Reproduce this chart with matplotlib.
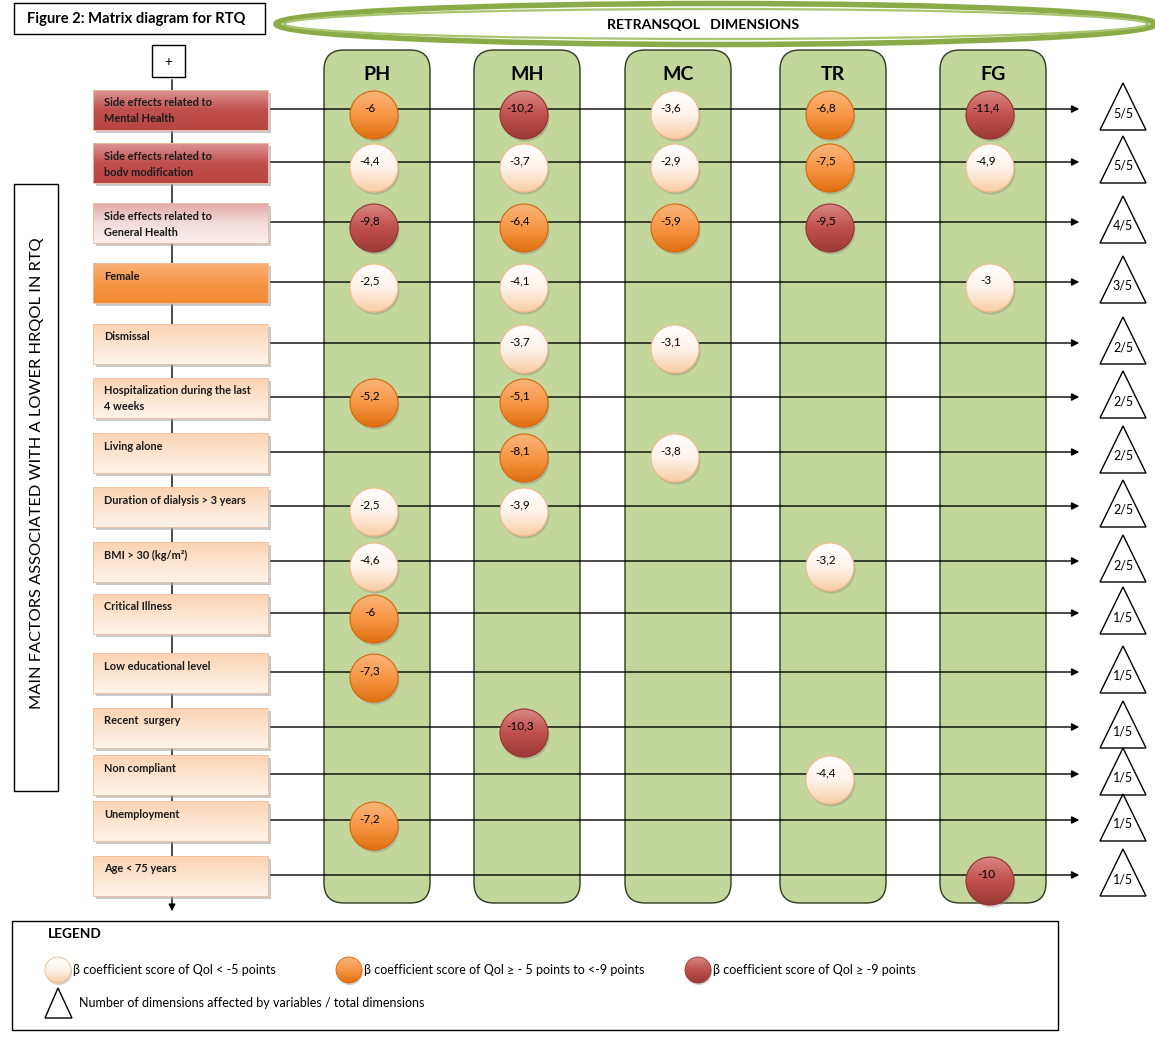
import matplotlib
matplotlib.use("Agg")
import matplotlib.pyplot as plt
import numpy as np
from matplotlib.patches import Rectangle, FancyBboxPatch, Circle, Ellipse, Polygon
from matplotlib.colors import LinearSegmentedColormap

plt.rcParams['font.family'] = ['Lato', 'DejaVu Sans']

# ---- data ----
dimensions = ["PH", "MH", "MC", "TR", "FG"]
factors = [
    "Side effects related to\nMental Health",
    "Side effects related to\nbodv modification",
    "Side effects related to\nGeneral Health",
    "Female",
    "Dismissal",
    "Hospitalization during the last\n4 weeks",
    "Living alone",
    "Duration of dialysis > 3 years",
    "BMI > 30 (kg/m²)",
    "Critical Illness",
    "Low educational level",
    "Recent  surgery",
    "Non compliant",
    "Unemployment",
    "Age < 75 years",
]
# beta coefficients per factor (None = not significant), order PH, MH, MC, TR, FG
beta = [
    [-6.0, -10.2, -3.6, -6.8, -11.4],
    [-4.4, -3.7, -2.9, -7.5, -4.9],
    [-9.8, -6.4, -5.9, -9.5, None],
    [-2.5, -4.1, None, None, -3.0],
    [None, -3.7, -3.1, None, None],
    [-5.2, -5.1, None, None, None],
    [None, -8.1, -3.8, None, None],
    [-2.5, -3.9, None, None, None],
    [-4.6, None, None, -3.2, None],
    [-6.0, None, None, None, None],
    [-7.3, None, None, None, None],
    [None, -10.3, None, None, None],
    [None, None, None, -4.4, None],
    [-7.2, None, None, None, None],
    [None, None, None, None, -10.0],
]
# factor box style: 'red', 'pink', 'orange', 'peach'
box_style = ["red", "red", "pink", "orange"] + ["peach"] * 11

# ---- layout (pixel units) ----
W, H = 1155, 1037
row_y = [109, 162, 222, 282, 343, 397, 452, 506, 561, 613, 672, 727, 774, 820, 875]
col_x = [377, 527, 678, 833, 993]
col_w = 106
box_x0, box_x1 = 93, 268
spine_x = 172
arrow_end = 1082
tri_x = 1123
circ_r = 24

fig = plt.figure(figsize=(W / 100, H / 100), dpi=100)
ax = fig.add_axes([0, 0, 1, 1])
ax.set_xlim(0, W)
ax.set_ylim(H, 0)
ax.axis('off')


def grad_fill(patch, colors, z):
    ax.add_patch(patch)
    bb = patch.get_path().transformed(patch.get_patch_transform()).get_extents()
    cmap = LinearSegmentedColormap.from_list("g", colors)
    img = ax.imshow(np.linspace(0, 1, 64).reshape(-1, 1), cmap=cmap, aspect='auto',
                    extent=(bb.x0, bb.x1, bb.y1, bb.y0), origin='upper', zorder=z,
                    interpolation='bilinear')
    img.set_clip_path(patch)


box_colors = {
    "red": ["#dd9594", "#c0504d", "#b84542"],
    "pink": ["#e3a9a8", "#f2dcdb", "#faeeee"],
    "orange": ["#f9b27a", "#f79646", "#f28a33"],
    "peach": ["#fbd3b3", "#fde4cf", "#fef4ec"],
}
circle_colors = {
    "light": (["#ffffff", "#fef3ea", "#f8cda6"], "#f2b98a"),
    "orange": (["#fbb57a", "#f79646", "#e0700f"], "#d4660c"),
    "red": (["#d98582", "#c0504d", "#9c3a37"], "#8e3330"),
}


def level(v):
    if abs(v) >= 9:
        return "red"
    if abs(v) >= 5:
        return "orange"
    return "light"


# title
ax.add_patch(Rectangle((14, 3), 251, 31, fc='white', ec='black', lw=1, zorder=2))
ax.text(27, 19, "Figure 2: Matrix diagram for RTQ", fontsize=10.6, fontweight='bold',
        va='center', ha='left', zorder=3)

# dimensions ellipse
ax.add_patch(Ellipse((716, 24), 880, 41, fc='white', ec='#8aab48', lw=4, zorder=2))
ax.add_patch(Ellipse((716, 24), 864, 30, fc='none', ec='#a9c46e', lw=1.6, zorder=2))
ax.text(703, 25, "RETRANSQOL   DIMENSIONS", fontsize=10.2, fontweight='bold',
        ha='center', va='center', zorder=3)

# dimension panels
for x, d in zip(col_x, dimensions):
    ax.add_patch(FancyBboxPatch((x - col_w / 2, 50), col_w, 853,
                                boxstyle="round,pad=0,rounding_size=20",
                                fc='#c3d69b', ec='#2f3a20', lw=1, zorder=1))
    ax.text(x, 74, d, fontsize=14, fontweight='bold', ha='center', va='center', zorder=3)

# left vertical title box
ax.add_patch(Rectangle((14, 184), 44, 607, fc='white', ec='black', lw=1, zorder=2))
ax.text(37, 473, "MAIN FACTORS ASSOCIATED WITH A LOWER HRQOL IN RTQ", rotation=90,
        fontsize=11.8, ha='center', va='center', zorder=3)

# spine with plus box
ax.add_patch(Rectangle((152, 45), 33, 32, fc='white', ec='black', lw=1, zorder=2))
ax.text(168, 62, "+", fontsize=9.5, ha='center', va='center', zorder=3)
ax.annotate("", xy=(spine_x, 914), xytext=(spine_x, 77),
            arrowprops=dict(arrowstyle='-|>', color='black', lw=1, mutation_scale=10),
            zorder=1.5)

# rows
for i, (name, y) in enumerate(zip(factors, row_y)):
    top = y - 19
    # shadow + box
    ax.add_patch(Rectangle((box_x0 + 3, top + 3), box_x1 - box_x0, 40, fc='#a6a6a6',
                           ec='none', alpha=0.6, zorder=2))
    grad_fill(Rectangle((box_x0, top), box_x1 - box_x0, 40, fc='none',
                        ec='#f0c0a0', lw=0.6, zorder=2.2), box_colors[box_style[i]], 2.1)
    for k, line in enumerate(name.split("\n")):
        ax.text(box_x0 + 11, y - 6 + 16 * k, line, fontsize=7.9, fontweight='bold',
                ha='left', va='center', color='#1a1a1a', zorder=3)
    # connector arrow
    ax.annotate("", xy=(arrow_end, y), xytext=(box_x1, y),
                arrowprops=dict(arrowstyle='-|>', color='black', lw=1, mutation_scale=11),
                zorder=2.5)
    # circles
    n_aff = 0
    for j, v in enumerate(beta[i]):
        if v is None:
            continue
        n_aff += 1
        cx, cy = col_x[j] - 3, y + 6
        cols, edge = circle_colors[level(v)]
        ax.add_patch(Circle((cx + 1.5, cy + 2.5), circ_r, fc='#7f7f7f', alpha=0.35,
                            ec='none', zorder=3))
        grad_fill(Circle((cx, cy), circ_r, fc='none', ec=edge, lw=0.8, zorder=4.1), cols, 4)
        lab = ("%g" % v).replace(".", ",")
        ax.text(cx - 4, y - 1, lab, fontsize=8.5, ha='center', va='center',
                color='black', zorder=5)
    # triangle count
    ax.add_patch(Polygon([(tri_x, y - 26), (tri_x - 23, y + 21), (tri_x + 23, y + 21)],
                         closed=True, fc='white', ec='black', lw=1, zorder=3))
    ax.text(tri_x, y + 4, "%d/%d" % (n_aff, len(dimensions)), fontsize=9,
            ha='center', va='center', zorder=4)

# legend
ax.add_patch(Rectangle((12, 921), 1046, 109, fc='white', ec='black', lw=1, zorder=2))
ax.text(48, 934, "LEGEND", fontsize=9.8, fontweight='bold', ha='left', va='center', zorder=3)
legend_items = [
    ("light", "β coefficient score of Qol < -5 points", 58),
    ("orange", "β coefficient score of Qol ≥ - 5 points to <-9 points", 349),
    ("red", "β coefficient score of Qol ≥ -9 points", 698),
]
for lvl, txt, lx in legend_items:
    cols, edge = circle_colors[lvl]
    ax.add_patch(Circle((lx + 1, 972), 13, fc='#7f7f7f', alpha=0.35, ec='none', zorder=3))
    grad_fill(Circle((lx, 970), 13, fc='none', ec=edge, lw=0.6, zorder=4.1), cols, 4)
    ax.text(lx + 15, 970, txt, fontsize=9, ha='left', va='center', zorder=4)
ax.add_patch(Polygon([(58, 988), (45, 1018), (72, 1018)], closed=True, fc='white',
                     ec='black', lw=1, zorder=3))
ax.text(79, 1003, "Number of dimensions affected by variables / total dimensions",
        fontsize=9, ha='left', va='center', zorder=4)

ax.set_xlim(0, W)
ax.set_ylim(H, 0)
fig.savefig("out.png", dpi=100)
